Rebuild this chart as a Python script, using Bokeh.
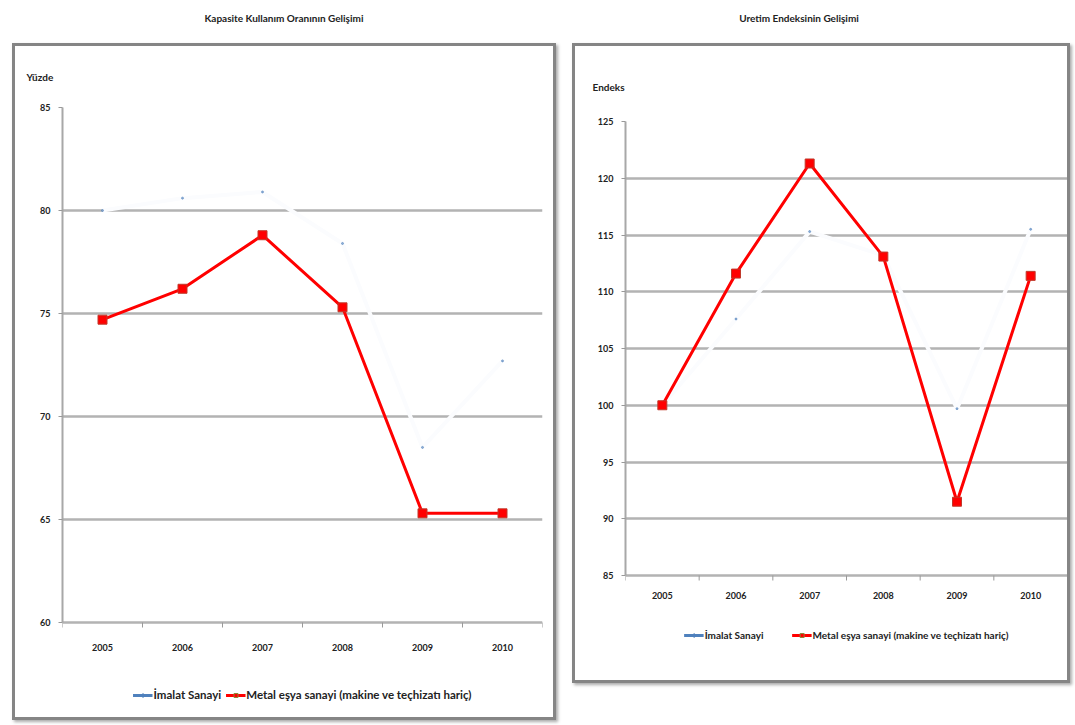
from bokeh.plotting import figure
from bokeh.models import FixedTicker, Legend, LegendItem, Div, Range1d
from bokeh.layouts import row, column
from bokeh.embed import file_html
from bokeh.resources import INLINE
from bokeh.core.properties import value

years = ["2005", "2006", "2007", "2008", "2009", "2010"]
kko_imalat = [80.0, 80.6, 80.9, 78.4, 68.5, 72.7]
kko_metal = [74.7, 76.2, 78.8, 75.3, 65.3, 65.3]
ue_imalat = [100.0, 107.6, 115.3, 113.2, 99.7, 115.5]
ue_metal = [100.0, 111.6, 121.3, 113.1, 91.5, 111.4]
kko_ticks = [60, 65, 70, 75, 80, 85]
ue_ticks = [85, 90, 95, 100, 105, 110, 115, 120, 125]
series_names = ["İmalat Sanayi", "Metal eşya sanayi (makine ve teçhizatı hariç)"]
titles = ["Kapasite Kullanım Oranının Gelişimi", "Uretim Endeksinin Gelişimi"]
unit_labels = ["Yüzde", "Endeks"]

FONT = "Lato"
xs = list(range(1, len(years) + 1))


def panel(unit, imalat, metal, ticks, w, h, top, axis_px, t_off, t_stand, t_valign,
          leg_font, leg_spacing, leg_margin, left, right, lab_off):
    frame_h = h - top
    upp = (ticks[-1] - ticks[0]) / axis_px          # data units per pixel
    y0 = ticks[-1] - frame_h * upp
    p = figure(width=w, height=h, output_backend="svg", toolbar_location=None,
               x_range=Range1d(0.5, len(years) + 0.5),
               y_range=Range1d(y0, ticks[-1]),
               min_border_left=left, min_border_right=right,
               min_border_top=top, min_border_bottom=0)
    p.outline_line_color = None
    p.background_fill_color = "white"
    p.border_fill_color = "white"
    p.xgrid.grid_line_color = None
    p.ygrid.ticker = FixedTicker(ticks=ticks)
    p.ygrid.grid_line_color = "#b3b3b3"
    p.ygrid.grid_line_width = 2.5
    p.xaxis.visible = False

    p.title.text = unit
    p.title.align = "left"
    p.title.vertical_align = t_valign
    p.title.offset = t_off
    p.title.standoff = t_stand
    p.title.text_font = FONT
    p.title.text_font_size = "10px"
    p.title.text_font_style = "bold"
    p.title.text_color = "#222222"

    p.yaxis.ticker = FixedTicker(ticks=ticks)
    p.yaxis.bounds = (ticks[0], ticks[-1])
    p.yaxis.minor_tick_line_color = None
    p.yaxis.major_tick_line_color = "#999999"
    p.yaxis.major_tick_out = 4
    p.yaxis.major_tick_in = 0
    p.yaxis.axis_line_color = "#a8a8a8"
    p.yaxis.axis_line_width = 2
    p.yaxis.major_label_standoff = 8
    p.yaxis.major_label_text_font = FONT
    p.yaxis.major_label_text_font_size = "9px"
    p.yaxis.major_label_text_font_style = "bold"
    p.yaxis.major_label_text_color = "#222222"

    # category axis: tick marks between categories, labels at the centres
    bx = [x - 0.5 for x in xs] + [len(xs) + 0.5]
    p.segment(x0=bx, x1=bx, y0=[ticks[0]] * len(bx), y1=[ticks[0] - 5 * upp] * len(bx),
              line_color="#999999", line_width=1)
    p.text(x=xs, y=[ticks[0]] * len(xs), text=years, y_offset=lab_off,
           text_align="center", text_baseline="top",
           text_font=value(FONT), text_font_size="9px", text_font_style="bold",
           text_color="#222222")

    # the blue series is washed out in the reference: drawn as a pale line
    p.line(xs, imalat, line_color="#fbfcfe", line_width=4)
    p.scatter(xs, imalat, marker="circle", size=2, color="#4f81bd", alpha=0.6)

    p.line(xs, metal, line_color="#ff0000", line_width=3)
    p.scatter(xs, metal, marker="square", size=9, fill_color="#ff0000",
              line_color="#c0392b", line_width=1)

    # legend proxies placed outside the visible range
    px, py = [-10, -9], [ticks[0] - 500, ticks[0] - 500]
    lb = p.line(px, py, line_color="#4f81bd", line_width=3)
    sb = p.scatter(px, py, marker="diamond", size=8, color="#4f81bd")
    lr = p.line(px, py, line_color="#ff0000", line_width=3)
    sr = p.scatter(px, py, marker="square", size=8, fill_color="#ff0000", line_color="#8a8a3a")
    legend = Legend(items=[LegendItem(label=series_names[0], renderers=[lb, sb]),
                           LegendItem(label=series_names[1], renderers=[lr, sr])],
                    orientation="horizontal", location="bottom_center")
    legend.border_line_color = None
    legend.background_fill_alpha = 0
    legend.label_text_font = FONT
    legend.label_text_font_size = leg_font
    legend.label_text_font_style = "bold"
    legend.label_text_color = "#222222"
    legend.glyph_width = 20
    legend.glyph_height = 10
    legend.label_standoff = 1
    legend.spacing = leg_spacing
    legend.padding = 2
    legend.margin = leg_margin
    p.add_layout(legend)

    p.styles = {"border": "3px solid #858585", "box-shadow": "2px 2px 3px #aaaaaa"}
    return p


def title_div(text, w, ml, pr):
    d = Div(text=f'<div style="width:{w - pr}px;padding-right:{pr}px;text-align:center;'
                 f'font-family:\'{FONT}\';font-weight:bold;font-size:10px;color:#222;'
                 f'line-height:36px">{text}</div>',
            width=w, height=43, margin=(0, 0, 0, ml))
    return d


p1 = panel(unit_labels[0], kko_imalat, kko_metal, kko_ticks, 544, 677, 61, 515,
           -36, 46, "top", "11.5px", 4, 22, 47, 17, 21)
p1.margin = (0, 0, 0, 12)
p2 = panel(unit_labels[1], ue_imalat, ue_metal, ue_ticks, 498, 640, 75, 454,
           -33, 58, "bottom", "10px", 28, 45, 50, 6, 16)
p2.margin = (0, 0, 0, 16)

layout = row(column(title_div(titles[0], 544, 12, 0), p1),
             column(title_div(titles[1], 498, 16, 22), p2))

with open("out.html", "w") as f:
    f.write(file_html(layout, INLINE))
